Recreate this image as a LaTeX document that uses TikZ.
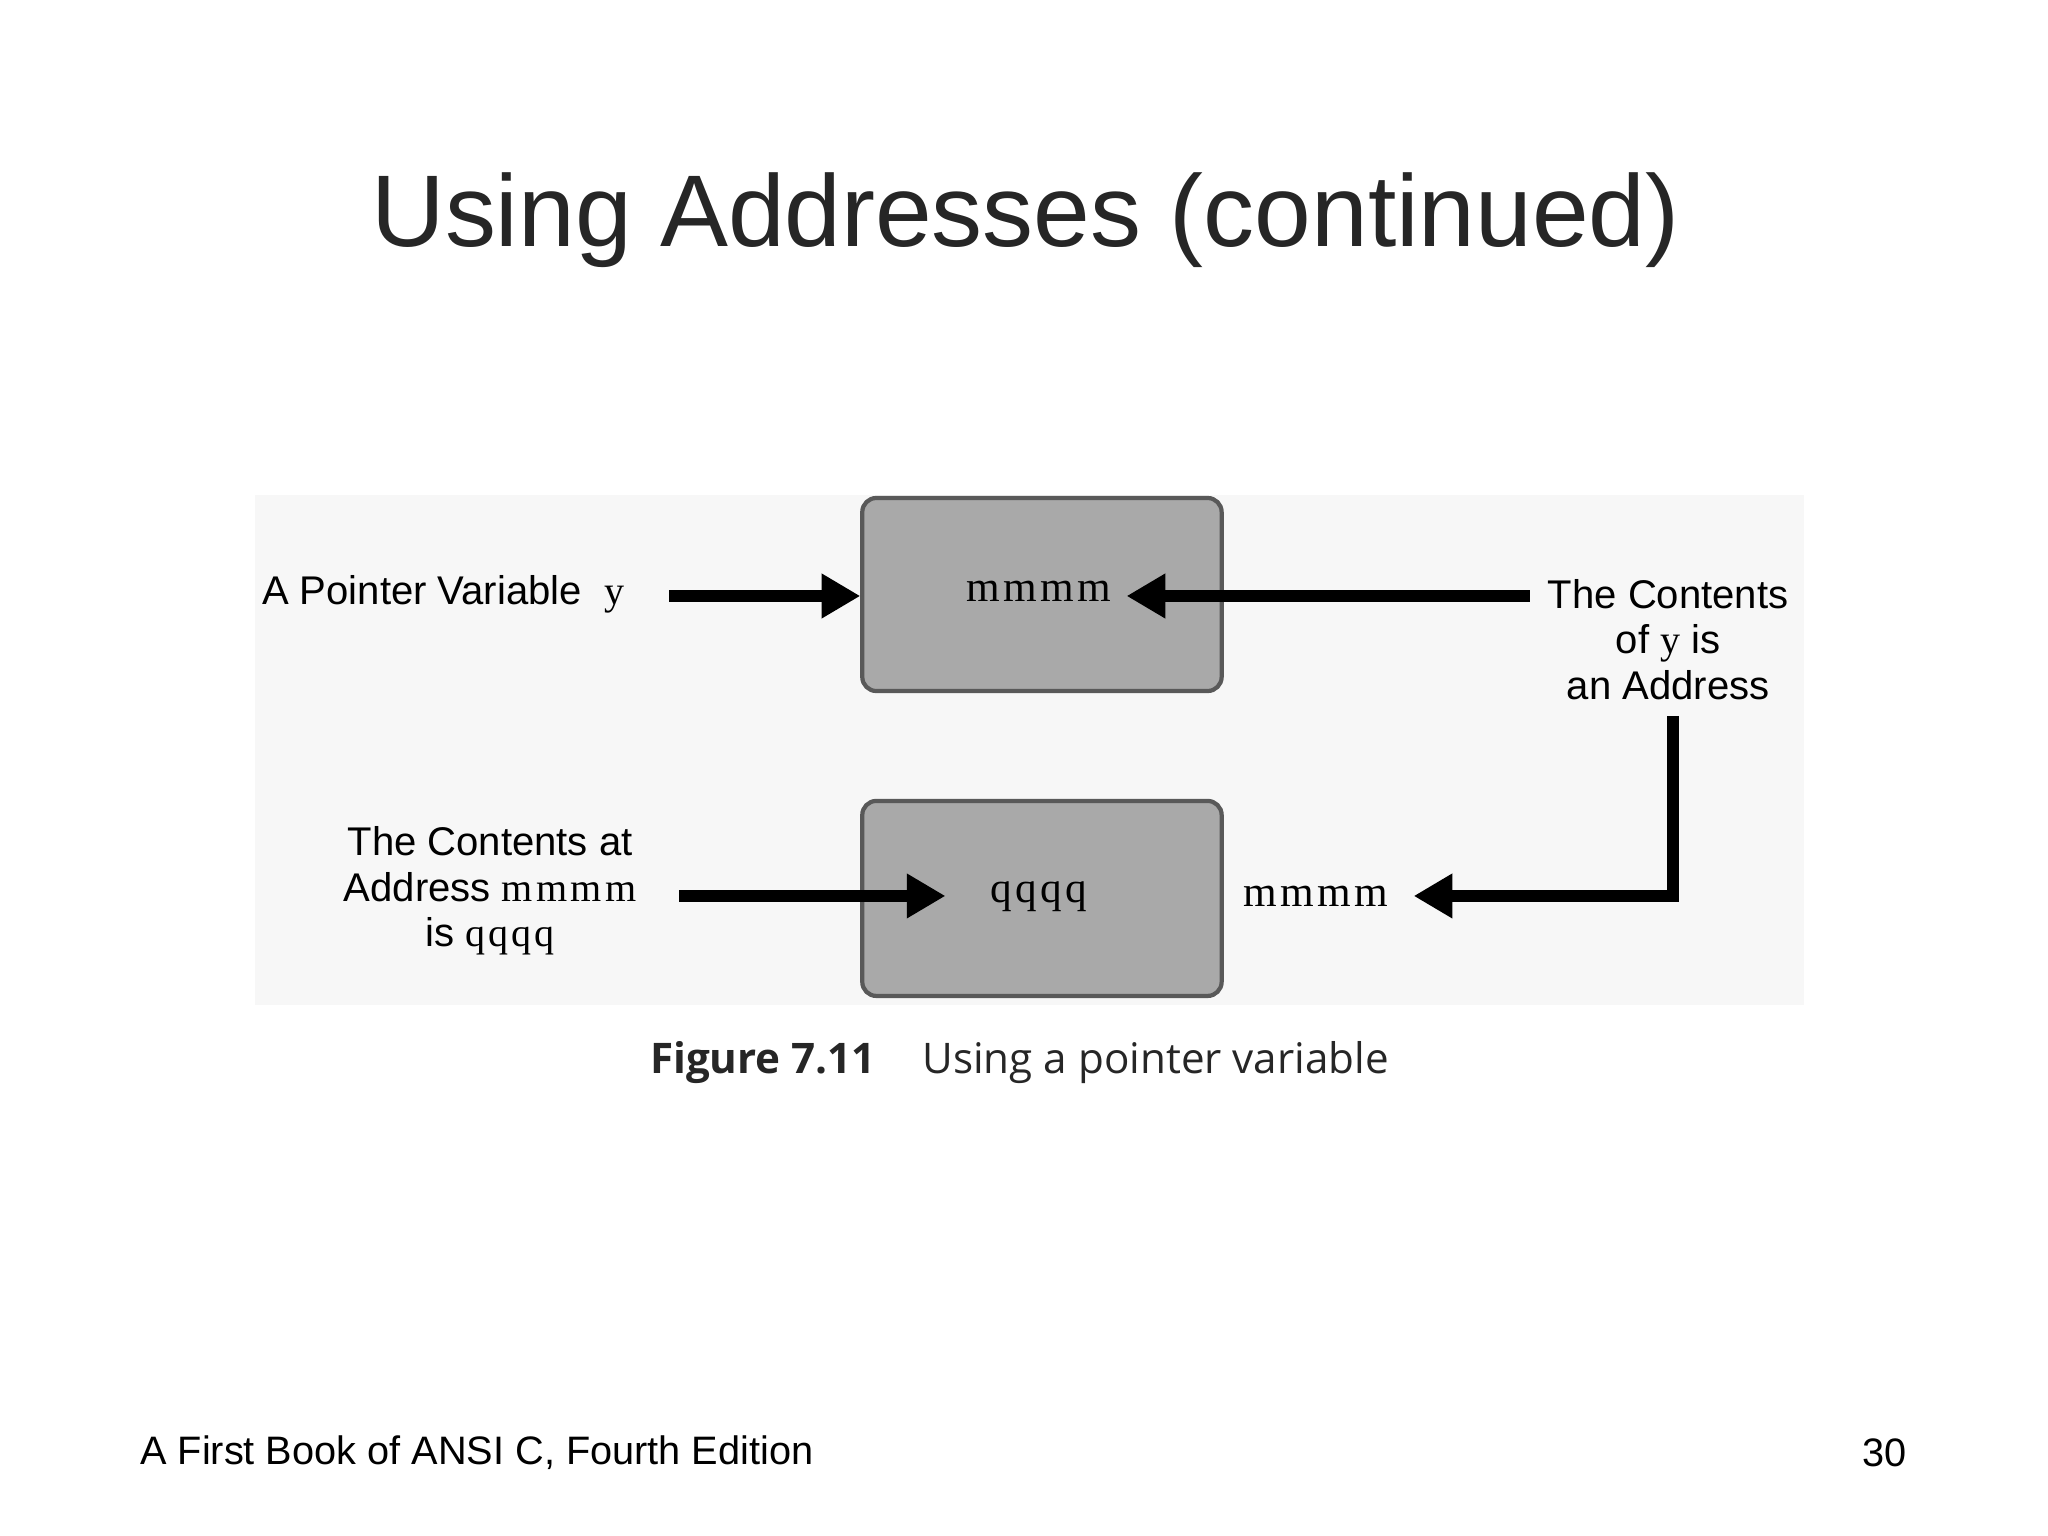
\documentclass[tikz,border=0pt]{standalone}
\usepackage{fontspec}
\setmainfont{Liberation Sans}
\newfontfamily\capfont{Open Sans}
\newfontfamily\serifv[LetterSpace=8]{Liberation Serif}
\usetikzlibrary{arrows.meta}
\definecolor{boxgray}{HTML}{A9A9A9}
\definecolor{bggray}{HTML}{F7F7F7}
\begin{document}
\begin{tikzpicture}[x=0.0099cm,y=-0.0099cm,
  memb/.style={draw=black!65,line width=1.2pt,fill=boxgray,rounded corners=4pt},
  lbl/.style={font=\fontsize{11.4pt}{12.9pt}\selectfont,align=center,inner sep=0pt},
  val/.style={font=\serifv\fontsize{12.3pt}{14pt}\selectfont,inner sep=0pt},
  arr/.style={line width=3.5pt,-{Triangle[length=11pt,width=12pt]}}]
\useasboundingbox (0,0) rectangle (2068.7,1551.5);
\fill[bggray] (258,500) rectangle (1822,1015);
\node[font=\fontsize{29pt}{34pt}\selectfont,text=black!85] (title) at (1036,222) {Using Addresses (continued)};
\draw[memb] (871,503) rectangle (1234,698);
\draw[memb] (871,809) rectangle (1234,1006);
\node[val] (m1) at (1049,597) {mmmm};
\node[val] (q) at (1049,906) {qqqq};
\node[val] (m2) at (1329,905) {mmmm};
\node[lbl,anchor=west] (pv) at (264,600) {A Pointer Variable\ \ {\serifv y}};
\coordinate (a1s) at (676,602); \coordinate (a1e) at (869,602);
\draw[arr] (a1s) -- (a1e);
\node[lbl] (cy) at (1685,646) {The Contents\\of {\serifv y} is\\an Address};
\coordinate (a2s) at (1545,602); \coordinate (a2e) at (1138,602);
\draw[arr] (a2s) -- (a2e);
\coordinate (a3s) at (1690,723); \coordinate (a3c) at (1690,905); \coordinate (a3e) at (1428,905);
\draw[arr,line join=miter] (a3s) -- (a3c) -- (a3e);
\node[lbl] (ca) at (495,900) {The Contents at\\Address {\serifv mmmm}\\is {\serifv qqqq}};
\coordinate (a4s) at (686,905); \coordinate (a4e) at (955,905);
\draw[arr] (a4s) -- (a4e);
\node[anchor=west,inner sep=0pt,font=\capfont\fontsize{12pt}{14pt}\selectfont,text=black!85] (cap) at (656,1073) {\textbf{Figure 7.11}\hspace{1.1em}Using a pointer variable};
\node[anchor=west,inner sep=0pt,font=\fontsize{11.3pt}{13pt}\selectfont] (ft) at (141,1467) {A First Book of ANSI C, Fourth Edition};
\node[anchor=east,inner sep=0pt,font=\fontsize{11.3pt}{13pt}\selectfont] (pg) at (1927,1467) {30};
\end{tikzpicture}
\end{document}
